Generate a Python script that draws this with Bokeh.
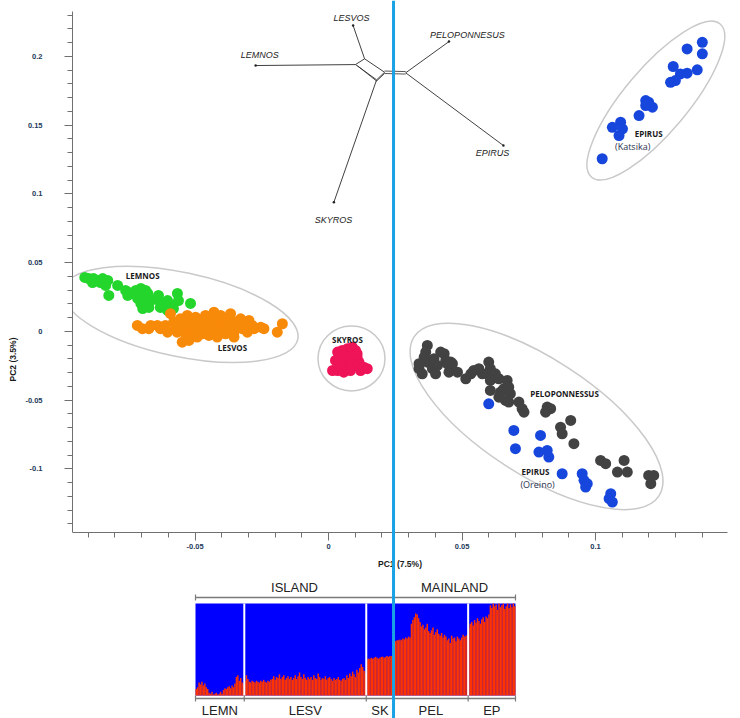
import numpy as np
from bokeh.plotting import figure
from bokeh.models import Range1d, LinearAxis, Span, SingleIntervalTicker, NumeralTickFormatter
from bokeh.embed import file_html
from bokeh.resources import INLINE
from bokeh.core.properties import value

# ================= PCA scores (PC1, PC2) =================
lemnos_x = [-0.0913,-0.0898,-0.0884,-0.0880,-0.0865,-0.0854,-0.0846,-0.0827,-0.0835,-0.0823,-0.0790,-0.0760,
            -0.0748,-0.0733,-0.0752,-0.0722,-0.0703,-0.0685,-0.0677,-0.0692,-0.0715,-0.0703,-0.0696,-0.0673,
            -0.0666,-0.0637,-0.0630,-0.0603,-0.0592,-0.0566,-0.0562,-0.0581,-0.0603,-0.0517,-0.0630]
lemnos_y = [0.0393,0.0385,0.0356,0.0385,0.0371,0.0356,0.0385,0.0371,0.0335,0.0262,0.0335,0.0298,0.0284,0.0276,
            0.0262,0.0298,0.0313,0.0298,0.0276,0.0247,0.0240,0.0204,0.0167,0.0175,0.0225,0.0262,0.0211,0.0225,
            0.0189,0.0276,0.0225,0.0167,0.0153,0.0204,0.0175]
lesvos_x = [-0.0716,-0.0697,-0.0673,-0.0666,-0.0641,-0.0630,-0.0611,-0.0603,-0.0592,-0.0580,-0.0573,-0.0567,
            -0.0561,-0.0555,-0.0548,-0.0542,-0.0536,-0.0529,-0.0523,-0.0517,-0.0511,-0.0504,-0.0498,-0.0492,
            -0.0486,-0.0479,-0.0473,-0.0467,-0.0461,-0.0454,-0.0448,-0.0442,-0.0436,-0.0429,-0.0423,-0.0417,
            -0.0411,-0.0404,-0.0398,-0.0392,-0.0386,-0.0379,-0.0373,-0.0367,-0.0361,-0.0354,-0.0348,-0.0342,
            -0.0329,-0.0323,-0.0311,-0.0304,-0.0298,-0.0286,-0.0279,-0.0254,-0.0242,-0.0192,-0.0173,-0.0448,
            -0.0492,-0.0523,-0.0417,-0.0354]
lesvos_y = [0.0044,0.0020,0.0020,0.0044,0.0044,0.0020,0.0044,-0.0005,0.0129,0.0068,0.0031,-0.0005,0.0044,0.0092,
            -0.0078,-0.0005,0.0044,0.0116,0.0080,0.0020,-0.0029,0.0056,0.0104,0.0007,0.0044,0.0080,-0.0017,
            0.0031,0.0116,0.0056,0.0007,0.0080,0.0031,0.0140,0.0092,-0.0005,0.0056,0.0116,0.0020,0.0068,
            -0.0017,0.0044,0.0092,0.0129,0.0031,-0.0005,0.0068,0.0044,0.0092,0.0020,0.0056,-0.0005,0.0080,
            0.0044,0.0020,0.0031,0.0020,-0.0005,0.0056,-0.0029,-0.0041,-0.0065,-0.0041,-0.0041]
skyros_x = [0.0034,0.0051,0.0070,0.0089,0.0101,0.0082,0.0057,0.0045,0.0026,0.0064,0.0089,0.0107,0.0114,
            0.0095,0.0076,0.0051,0.0034,0.0015,0.0057,0.0120,0.0132,0.0145,0.0082,0.0107,0.0039]
skyros_y = [-0.0150,-0.0138,-0.0126,-0.0114,-0.0138,-0.0162,-0.0174,-0.0198,-0.0211,-0.0223,-0.0198,-0.0187,
            -0.0223,-0.0247,-0.0260,-0.0271,-0.0284,-0.0284,-0.0296,-0.0284,-0.0260,-0.0271,-0.0284,-0.0162,
            -0.0235]
pelop_x = [0.0370,0.0364,0.0358,0.0339,0.0351,0.0370,0.0383,0.0389,0.0395,0.0408,0.0401,0.0420,0.0433,0.0439,
           0.0458,0.0464,0.0451,0.0483,0.0514,0.0533,0.0544,0.0563,0.0576,0.0600,0.0606,0.0595,0.0625,0.0606,
           0.0638,0.0669,0.0675,0.0656,0.0644,0.0606,0.0638,0.0663,0.0675,0.0681,0.0713,0.0725,0.0732,0.0819,
           0.0832,0.0813,0.0869,0.0875,0.0907,0.0919,0.1019,0.1038,0.1082,0.1107,0.1119,0.1199,0.1218,0.1207,
           0.0339,0.0445]
pelop_y = [-0.0102,-0.0150,-0.0187,-0.0271,-0.0308,-0.0223,-0.0235,-0.0271,-0.0198,-0.0247,-0.0308,-0.0150,
           -0.0162,-0.0211,-0.0223,-0.0235,-0.0296,-0.0296,-0.0344,-0.0308,-0.0284,-0.0271,-0.0308,-0.0223,
           -0.0271,-0.0308,-0.0308,-0.0356,-0.0344,-0.0356,-0.0405,-0.0417,-0.0441,-0.0429,-0.0478,-0.0502,
           -0.0514,-0.0453,-0.0514,-0.0562,-0.0587,-0.0550,-0.0562,-0.0587,-0.0696,-0.0744,-0.0647,-0.0816,
           -0.0938,-0.0962,-0.1023,-0.0938,-0.1023,-0.1047,-0.1047,-0.1107,-0.0235,-0.0235]
epirus_x = [0.0600,0.0694,0.0700,0.0794,0.0788,0.0819,0.0825,0.0875,0.0950,0.0957,0.0969,0.0963,0.1057,0.1051,
            0.1063,
            0.1343,0.1400,0.1400,0.1381,0.1343,0.1318,0.1291,0.1299,0.1281,0.1188,0.1199,0.1213,0.1163,0.1094,
            0.1063,0.1101,0.1088,0.1025,0.1188]
epirus_y = [-0.0526,-0.0720,-0.0853,-0.0756,-0.0877,-0.0865,-0.0914,-0.1035,-0.1035,-0.1083,-0.1107,-0.1132,
            -0.1180,-0.1216,-0.1241,
            0.2055,0.2103,0.2019,0.1903,0.1878,0.1873,0.1927,0.1825,0.1812,0.1679,0.1667,0.1631,0.1570,0.1522,
            0.1485,0.1474,0.1425,0.1256,0.1643]

group_labels = ["LEMNOS", "LESVOS", "SKYROS", "PELOPONNESSUS", "EPIRUS", "EPIRUS"]
group_label_x = [-0.0696, -0.0360, 0.0071, 0.0884, 0.0775, 0.1199]
group_label_y = [0.0407, -0.0116, -0.0058, -0.0451, -0.1018, 0.1439]
sub_labels = ["(Oreino)", "(Katsika)"]
sub_label_x = [0.0783, 0.1139]
sub_label_y = [-0.1112, 0.1345]

# cluster ellipses: centre (PC1, PC2)
ell_x = [-0.0555, 0.0086, 0.0779, 0.1226]
ell_y = [0.0124, -0.0196, -0.0618, 0.1679]

# ================= NeighborNet inset (drawn in PCA coordinates) =================
net_tip_names = ["LEMNOS", "LESVOS", "SKYROS", "PELOPONNESUS", "EPIRUS"]
net_tip_x = [-0.0273, 0.0092, 0.0020, 0.0451, 0.0655]
net_tip_y = [0.1934, 0.2225, 0.0940, 0.2108, 0.1352]
net_node_x = {"A": 0.0101, "B": 0.0135, "C": 0.0210, "D": 0.0180, "E": 0.0289}
net_node_y = {"A": 0.1941, "B": 0.1983, "C": 0.1885, "D": 0.1830, "E": 0.1881}
net_label_x = [-0.0258, 0.0086, 0.0019, 0.0520, 0.0614]
net_label_y = [0.2007, 0.2283, 0.0807, 0.2159, 0.1301]

# ================= STRUCTURE (K=2): share of the red cluster per individual =================
bar_groups = ["LEMN", "LESV", "SK", "PEL", "EP"]
lemn = [0.07,0.09,0.14,0.12,0.15,0.11,0.13,0.09,0.07,0.03,0.02,0.04,0.01,0.02,0.03,0.01,0.02,
        0.04,0.02,0.06,0.08,0.07,0.09,0.10,0.08,0.11,0.09,0.13,0.20,0.22,0.16,0.19,0.14,0.12]
lesv = [0.16,0.22,0.18,0.15,0.14,0.16,0.15,0.14,0.16,0.15,0.14,0.16,0.15,0.17,0.15,0.14,0.16,0.15,0.17,
        0.18,0.21,0.17,0.2,0.19,0.23,0.18,0.2,0.22,0.17,0.19,0.21,0.18,0.2,0.17,0.19,0.22,0.18,0.21,0.25,0.2,
        0.18,0.23,0.19,0.17,0.2,0.18,0.2,0.17,0.22,0.19,0.18,0.24,0.2,0.17,0.19,0.18,0.21,0.17,0.19,0.2,
        0.18,0.16,0.19,0.17,0.18,0.2,0.17,0.16,0.18,0.19,
        0.17,0.22,0.19,0.24,0.21,0.26,0.23,0.2,0.28,0.25,0.3,0.34,0.31,0.27,0.24]
sk = [0.39,0.40,0.40,0.41,0.40,0.41,0.42,0.41,0.40,0.41,0.42,0.42,0.41,0.42,0.43,0.42,0.43,0.43,0.43]
pel = [0.58,0.59,0.60,0.60,0.61,0.60,0.62,0.61,0.63,0.62,0.64,0.63,0.78,0.82,0.85,0.89,0.88,0.84,0.8,
       0.75,0.77,0.72,0.74,0.78,0.7,0.68,0.71,0.74,0.66,0.69,0.72,0.67,0.65,0.68,0.63,0.66,0.64,0.6,
       0.62,0.57,0.65,0.62,0.63,0.59,0.64,0.62,0.60,0.63,0.66,0.64,0.65,0.66]
ep = [0.74,0.78,0.80,0.76,0.82,0.79,0.84,0.81,0.78,0.83,0.85,0.80,0.86,0.84,0.88,0.98,0.95,1.0,
      0.97,0.99,0.93,1.0,0.96,0.98,1.0,0.94,0.97,1.0,0.95,0.99,0.96,1.0,0.97]
regions = ["ISLAND", "MAINLAND"]

# ================= layout (page pixels) =================
W, H = 740, 718
FRAME_L = 72
BAR_L, BAR_R, BAR_T, BAR_B = 195, 515, 603, 695

p = figure(width=W, height=H, output_backend="svg", toolbar_location=None,
           x_axis_type=None, y_axis_type=None,
           x_range=Range1d(-0.0959, 0.1543), y_range=Range1d(-0.2815, 0.2407),
           min_border_left=FRAME_L, min_border_right=0, min_border_top=0, min_border_bottom=0)
p.outline_line_color = None
p.background_fill_color = "white"
p.border_fill_color = "white"

ybounds = (-0.146, 0.233)
yax = LinearAxis(ticker=SingleIntervalTicker(interval=0.05, num_minor_ticks=5),
                 formatter=NumeralTickFormatter(format="0.[00]"), bounds=ybounds,
                 axis_label="PC2 (3.5%)")
xax = LinearAxis(ticker=SingleIntervalTicker(interval=0.05, num_minor_ticks=5),
                 formatter=NumeralTickFormatter(format="0.[00]"), fixed_location=ybounds[0],
                 bounds=(-0.0959, 0.1495), axis_label="PC1 (7.5%)")
for ax in (yax, xax):
    ax.axis_line_color = "#707070"
    ax.major_tick_line_color = "#707070"
    ax.minor_tick_line_color = "#707070"
    ax.major_tick_in = 0
    ax.major_tick_out = 8
    ax.minor_tick_in = 0
    ax.minor_tick_out = 5
    ax.major_label_text_font = "Liberation Sans"
    ax.major_label_text_font_size = "7.5px"
    ax.major_label_text_font_style = "bold"
    ax.major_label_text_color = "#23395b"
    ax.axis_label_text_font = "Liberation Sans"
    ax.axis_label_text_font_size = "8.5px"
    ax.axis_label_text_font_style = "bold"
    ax.axis_label_text_color = "#1a1a1a"
yax.major_label_standoff = 22
yax.axis_label_standoff = 4
xax.major_label_standoff = 4
xax.axis_label_standoff = 6
p.add_layout(yax, "left")
p.add_layout(xax, "below")

# ---- ellipses around clusters ----
p.ellipse(x=ell_x, y=ell_y, width=[240, 67, 292, 200], height=[84, 65, 116, 64],
          angle=[-12, 0, -33, 50], width_units="screen", height_units="screen", angle_units="deg",
          fill_color=None, line_color="#c9c9c9", line_width=1.5)

# ---- PCA points ----
pts = [(lemnos_x, lemnos_y, "#24d62c"), (lesvos_x, lesvos_y, "#f88a0a"), (skyros_x, skyros_y, "#ee1457"),
       (pelop_x, pelop_y, "#424242"), (epirus_x, epirus_y, "#1646dc")]
for xs, ys, c in pts:
    p.scatter(xs, ys, size=11, fill_color=c, line_color=None, marker="circle")

p.text(x=group_label_x, y=group_label_y, text=group_labels, text_align="center", text_baseline="middle",
       text_font=value("Open Sans"), text_font_style="bold", text_font_size="8px", text_color="#1a1a1a")
p.text(x=sub_label_x, y=sub_label_y, text=sub_labels, text_align="center", text_baseline="middle",
       text_font=value("Open Sans"), text_font_size="9px", text_color="#2a3350")

# ---- network inset ----
nx, ny = net_node_x, net_node_y
seg = [("tip", 0, "A"), ("A", "B"), ("B", "C"), ("C", "D"), ("D", "A"),
       ("tip", 1, "B"), ("tip", 2, "D"), ("tip", 3, "E"), ("tip", 4, "E")]
x0s, y0s, x1s, y1s = [], [], [], []
for s in seg:
    if s[0] == "tip":
        x0s.append(net_tip_x[s[1]]); y0s.append(net_tip_y[s[1]])
        x1s.append(nx[s[2]]); y1s.append(ny[s[2]])
    else:
        x0s.append(nx[s[0]]); y0s.append(ny[s[0]])
        x1s.append(nx[s[1]]); y1s.append(ny[s[1]])
p.segment(x0=x0s, y0=y0s, x1=x1s, y1=y1s, line_color="#2b2b2b", line_width=0.9)
# doubled central split and doubled box edges
off = 0.0009
p.segment(x0=[nx["C"], nx["C"]], y0=[ny["C"] + off, ny["C"] - off], x1=[nx["E"], nx["E"]],
          y1=[ny["E"] + off, ny["E"] - off], line_color="#2b2b2b", line_width=0.8)
p.segment(x0=[nx["A"] + 0.00075, nx["D"]], y0=[ny["A"] - off, ny["D"] - off],
          x1=[nx["D"], nx["C"]], y1=[ny["D"] - off, ny["C"] - off], line_color="#2b2b2b", line_width=0.8)
p.scatter(net_tip_x, net_tip_y, size=2.5, fill_color="#222222", line_color=None)
p.text(x=net_label_x, y=net_label_y, text=net_tip_names, text_align="center", text_baseline="middle",
       text_font=value("Liberation Sans"), text_font_style="italic", text_font_size="9px",
       text_color="#222222")

# ---- STRUCTURE bars (own ranges) ----
vals = [lemn, lesv, sk, pel, ep]
counts = [len(v) for v in vals]
N = sum(counts)
starts = np.concatenate([[0], np.cumsum(counts)[:-1]])
ends = np.cumsum(counts)
kx = (BAR_R - BAR_L) / N
ky = (BAR_B - BAR_T)
p.extra_x_ranges = {"bx": Range1d(-(BAR_L - FRAME_L) / kx, N + (W - BAR_R) / kx)}
p.extra_y_ranges = {"by": Range1d(-(H - BAR_B) / ky, 1 + BAR_T / ky)}
R = dict(x_range_name="bx", y_range_name="by")

p.quad(left=starts, right=ends, bottom=0, top=1, fill_color="#0000ff", line_color=None, **R)
allv = np.concatenate(vals)
p.vbar(x=np.arange(N) + 0.5, width=1.04, top=allv, bottom=0, fill_color="#ff3300", line_color=None, **R)
sep = [ends[0], ends[1], ends[3]]
p.segment(x0=sep, y0=0, x1=sep, y1=1, line_color="white", line_width=2, **R)

# brackets + labels
gray = "#7a7a7a"
by0 = -3 / ky
p.segment(x0=[0], y0=[by0], x1=[N], y1=[by0], line_color=gray, line_width=1.5, **R)
p.segment(x0=list(starts) + [N], y0=by0 - 3 / ky, x1=list(starts) + [N], y1=by0 + 3 / ky,
          line_color=gray, line_width=1.2, **R)
p.text(x=(starts + ends) / 2, y=-15 / ky, text=bar_groups, text_align="center", text_baseline="middle",
       text_font=value("Liberation Sans"), text_font_size="13px", text_color="#222222", **R)
mid = ends[2]
by1 = 1 + 6 / ky
p.segment(x0=[0], y0=[by1], x1=[N], y1=[by1], line_color=gray, line_width=1.5, **R)
p.segment(x0=[0, mid, N], y0=by1 - 3 / ky, x1=[0, mid, N], y1=by1 + 3 / ky,
          line_color=gray, line_width=1.2, **R)
p.text(x=[mid / 2, (mid + N) / 2], y=1 + 16 / ky, text=regions, text_align="center",
       text_baseline="middle", text_font=value("Liberation Sans"), text_font_size="13px",
       text_color="#222222", **R)

p.add_layout(Span(location=mid, dimension="height", x_range_name="bx",
                  line_color="#19a2e4", line_width=3))

open("out.html", "w").write(file_html(p, INLINE))
